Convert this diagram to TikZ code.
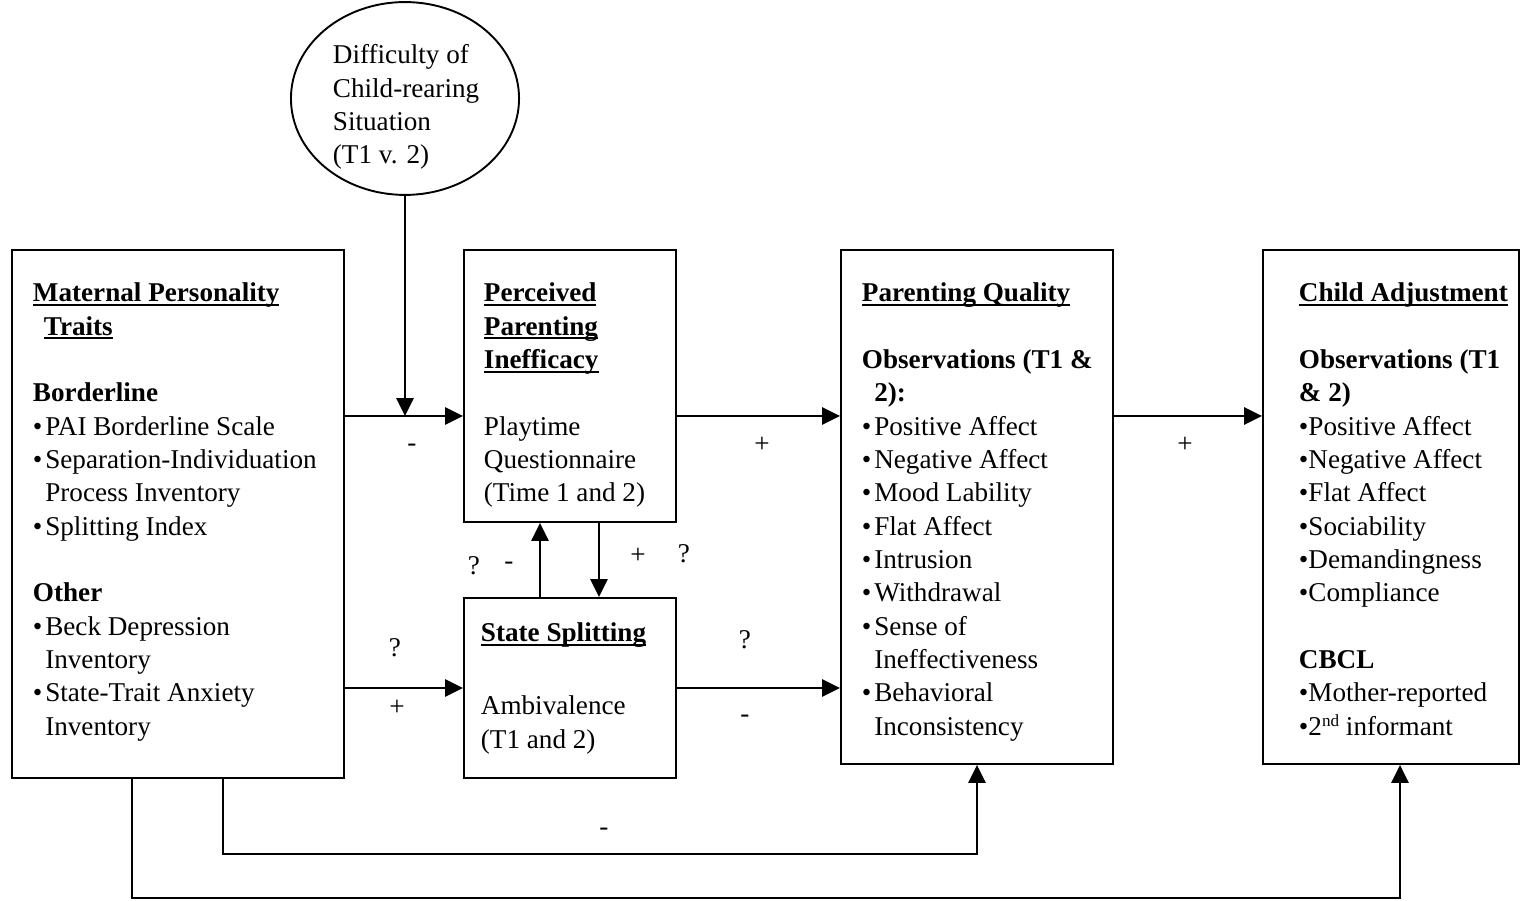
\documentclass[tikz,border=0pt]{standalone}
\usepackage{fontspec}
\setmainfont{Liberation Serif}
\usetikzlibrary{arrows.meta,shapes.geometric,fit}
\newcommand{\bul}{\textbullet\hspace{1.2pt}}
\newcommand{\ind}{\hphantom{\textbullet}\hspace{1.2pt}}
\newcommand{\bulc}{\textbullet}
\newcommand{\bu}[1]{\leavevmode\setbox0\hbox{\textbf{#1}}\rlap{\raisebox{-1.7pt}{\rule{\wd0}{0.85pt}}}\box0}
\newcommand{\supnd}{\raisebox{3.6pt}{\fontsize{7.2}{7.2}\selectfont nd}}
\begin{document}
\begin{tikzpicture}[x=0.42pt,y=-0.42pt, line width=0.8pt,
  box/.style={draw, line width=0.8pt, inner sep=0pt},
  txt/.style={anchor=base west, inner sep=0pt, font=\fontsize{11.4}{14}\selectfont},
  lbl/.style={inner sep=0pt, font=\fontsize{11.4}{14}\selectfont},
  arr/.style={-{Triangle[length=7.5pt,width=7.2pt]}}]
\useasboundingbox (0,0) rectangle (1521,901);

% boxes
\node[box, fit={(12,250) (344,778)}] (mpt) {};
\node[box, fit={(464,250) (676,522)}] (ppi) {};
\node[box, fit={(464,598) (676,778)}] (ss) {};
\node[box, fit={(841,250) (1113,764)}] (pq) {};
\node[box, fit={(1263,250) (1519,764)}] (ca) {};
\node[draw, ellipse, line width=0.8pt, inner sep=0pt, minimum width=95.8pt, minimum height=81pt] (diff) at (405,98.5) {};

% texts
\node[txt] (tdiff) at (332,64) {\begin{tabular}[t]{@{}l@{}}Difficulty of\\Child-rearing\\Situation\\(T1 v. 2)\end{tabular}};

\node[txt] (tmpt) at (32,302) {\begin{tabular}[t]{@{}l@{}}
\bu{Maternal Personality}\\
\hspace*{4.6pt}\bu{Traits}\\
\\
\textbf{Borderline}\\
\bul PAI Borderline Scale\\
\bul Separation-Individuation\\
\ind Process Inventory\\
\bul Splitting Index\\
\\
\textbf{Other}\\
\bul Beck Depression\\
\ind Inventory\\
\bul State-Trait Anxiety\\
\ind Inventory
\end{tabular}};

\node[txt] (tppi) at (483,302) {\begin{tabular}[t]{@{}l@{}}
\bu{Perceived}\\
\bu{Parenting}\\
\bu{Inefficacy}\\
\\
Playtime\\
Questionnaire\\
(Time 1 and 2)
\end{tabular}};

\node[txt] (tss1) at (480,642) {\bu{State Splitting}};
\node[txt] (tss2) at (480,715) {\begin{tabular}[t]{@{}l@{}}
Ambivalence\\
(T1 and 2)
\end{tabular}};

\node[txt] (tpq) at (861,302) {\begin{tabular}[t]{@{}l@{}}
\bu{Parenting Quality}\\
\\
\textbf{Observations (T1 \&}\\
\ind\textbf{2):}\\
\bul Positive Affect\\
\bul Negative Affect\\
\bul Mood Lability\\
\bul Flat Affect\\
\bul Intrusion\\
\bul Withdrawal\\
\bul Sense of\\
\ind Ineffectiveness\\
\bul Behavioral\\
\ind Inconsistency
\end{tabular}};

\node[txt] (tca) at (1298,302) {\begin{tabular}[t]{@{}l@{}}
\bu{Child Adjustment}\\
\\
\textbf{Observations (T1}\\
\textbf{\& 2)}\\
\bulc Positive Affect\\
\bulc Negative Affect\\
\bulc Flat Affect\\
\bulc Sociability\\
\bulc Demandingness\\
\bulc Compliance\\
\\
\textbf{CBCL}\\
\bulc Mother-reported\\
\bulc 2\supnd{} informant
\end{tabular}};

% helper coordinates
\coordinate (r1) at (405,416);
\coordinate (r2) at (0,688);
\coordinate (u) at (540,0);
\coordinate (d) at (599,0);
\coordinate (b1) at (223,854);
\coordinate (b1e) at (977,854);
\coordinate (b2) at (132,898);
\coordinate (b2e) at (1400,898);

% connectors
\draw[arr] (mpt.east|-r1) -- (ppi.west|-r1);
\draw[arr] (diff.south) -- (r1);
\draw[arr] (mpt.east|-r2) -- (ss.west|-r2);
\draw[arr] (ppi.east|-r1) -- (pq.west|-r1);
\draw[arr] (ss.east|-r2) -- (pq.west|-r2);
\draw[arr] (pq.east|-r1) -- (ca.west|-r1);
\draw[arr] (ss.north-|u) -- (ppi.south-|u);
\draw[arr] (ppi.south-|d) -- (ss.north-|d);
\draw[arr] (mpt.south-|b1) -- (b1) -- (b1e) -- (pq.south-|b1e);
\draw[arr] (mpt.south-|b2) -- (b2) -- (b2e) -- (ca.south-|b2e);

% labels
\node[lbl] (l1) at (412,448) {-};
\node[lbl] (l2) at (762,445) {+};
\node[lbl] (l3) at (1185,445) {+};
\node[lbl] (l4) at (395,648) {?};
\node[lbl] (l5) at (397,708) {+};
\node[lbl] (l6) at (745,640) {?};
\node[lbl] (l7) at (745,719) {-};
\node[lbl] (l8) at (474,566) {?};
\node[lbl] (l9) at (509,566) {-};
\node[lbl] (l10) at (638,556) {+};
\node[lbl] (l11) at (684,554) {?};
\node[lbl] (l12) at (604,832) {-};
\end{tikzpicture}
\end{document}
